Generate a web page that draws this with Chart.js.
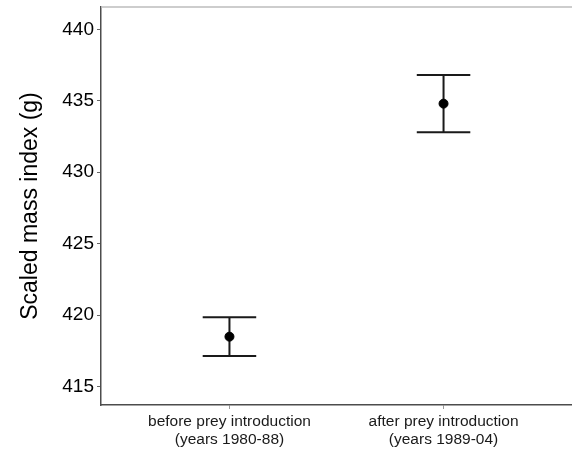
<!DOCTYPE html>
<html>
<head>
<meta charset="utf-8">
<script src="https://cdn.jsdelivr.net/npm/chart.js@4/dist/chart.umd.min.js"></script>
<style>
  html, body { margin: 0; padding: 0; background: #fff; }
  #grafico { display: block; }
</style>
</head>
<body>
<canvas id="grafico" width="572" height="452"></canvas>
<script>
// Dados do gráfico
const grupos = [
    ['before prey introduction', '(years 1980-88)'],
    ['after prey introduction', '(years 1989-04)']
];
const posicoes = [1, 2];
const mediaMassa = [418.5, 434.8];
const limiteInferior = [417.15, 432.8];
const limiteSuperior = [419.85, 436.8];
const ticksY = [415, 420, 425, 430, 435, 440];

Chart.defaults.font.family = "'Liberation Sans', Arial, sans-serif";
Chart.defaults.color = '#000';

// Plugin para as barras de erro e a linha cinza do topo
const barrasErro = {
    id: 'barrasErro',
    beforeDatasetsDraw(chart) {
        const { ctx, scales: { x, y } } = chart;
        ctx.save();
        ctx.strokeStyle = '#1a1a1a';
        ctx.lineWidth = 2;
        posicoes.forEach((p, i) => {
            const cx = x.getPixelForValue(p);
            const x0 = x.getPixelForValue(p - 0.125);
            const x1 = x.getPixelForValue(p + 0.125);
            const yTop = y.getPixelForValue(limiteSuperior[i]);
            const yBot = y.getPixelForValue(limiteInferior[i]);
            ctx.beginPath();
            ctx.moveTo(cx, yTop); ctx.lineTo(cx, yBot);
            ctx.moveTo(x0, yTop); ctx.lineTo(x1, yTop);
            ctx.moveTo(x0, yBot); ctx.lineTo(x1, yBot);
            ctx.stroke();
        });
        ctx.restore();
    },
    afterDraw(chart) {
        const { ctx, chartArea } = chart;
        ctx.save();
        ctx.strokeStyle = '#bdbdbd';
        ctx.lineWidth = 1.5;
        ctx.beginPath();
        ctx.moveTo(chartArea.left, chartArea.top);
        ctx.lineTo(chart.width, chartArea.top);
        ctx.stroke();
        ctx.restore();
    }
};

new Chart(document.getElementById('grafico'), {
    type: 'scatter',
    data: {
        datasets: [{
            data: posicoes.map((p, i) => ({ x: p, y: mediaMassa[i] })),
            backgroundColor: '#000',
            borderColor: '#000',
            pointRadius: 4.5,
            pointHoverRadius: 4.5
        }]
    },
    options: {
        responsive: false,
        animation: false,
        layout: { autoPadding: false, padding: { top: 7, right: 0, left: 1, bottom: 0 } },
        plugins: {
            legend: { display: false },
            tooltip: { enabled: false }
        },
        scales: {
            x: {
                type: 'linear',
                min: 0.4,
                max: 2.6,
                afterBuildTicks: (scale) => { scale.ticks = posicoes.map(v => ({ value: v })); },
                afterFit: (scale) => {
                    scale.height = 47;
                    scale.paddingLeft = 0;
                    scale.paddingRight = 0;
                },
                grid: { display: true, drawOnChartArea: false, tickLength: 4, tickColor: '#999' },
                border: { display: true, color: '#4d4d4d', width: 1.5 },
                ticks: {
                    autoSkip: false,
                    maxRotation: 0,
                    padding: 3,
                    color: '#1a1a1a',
                    font: { size: 15.5, lineHeight: 1.2 },
                    callback: (v) => grupos[posicoes.indexOf(v)]
                }
            },
            y: {
                min: 413.72,
                max: 441.56,
                afterBuildTicks: (scale) => { scale.ticks = ticksY.map(v => ({ value: v })); },
                afterFit: (scale) => {
                    scale.width = 100;
                    scale.paddingTop = 0;
                    scale.paddingBottom = 0;
                },
                grid: { display: true, drawOnChartArea: false, tickLength: 4, tickColor: '#666' },
                border: { display: true, color: '#4d4d4d', width: 1.5 },
                ticks: {
                    padding: 3,
                    color: '#000',
                    font: { size: 19 }
                },
                title: {
                    display: true,
                    text: 'Scaled mass index (g)',
                    color: '#000',
                    font: { size: 23 },
                    padding: { top: 16, bottom: 0 }
                }
            }
        }
    },
    plugins: [barrasErro]
});
</script>
</body>
</html>
